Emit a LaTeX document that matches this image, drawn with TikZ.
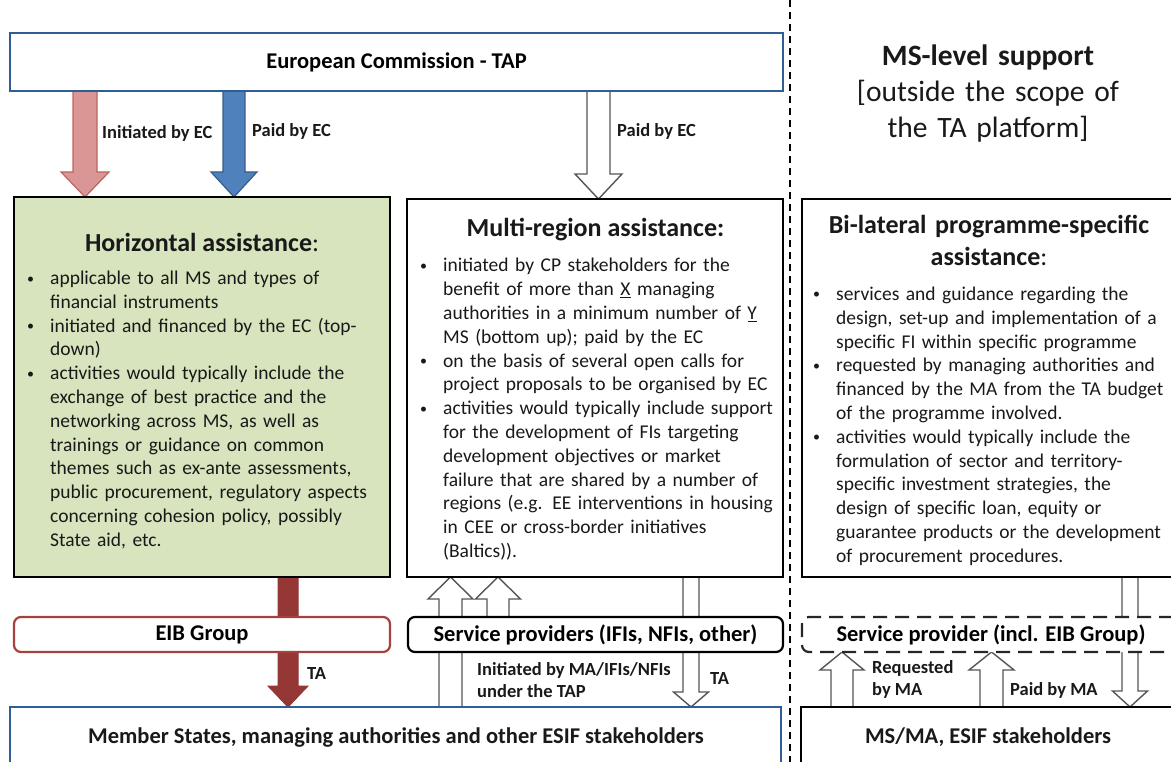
\documentclass[tikz,border=0pt]{standalone}
\usepackage{fontspec}
\setmainfont{Carlito}
\usetikzlibrary{calc}
\pgfdeclarelayer{bg}
\pgfsetlayers{bg,main}
\definecolor{ecblue}{RGB}{47,94,148}
\definecolor{hgreen}{RGB}{215,228,189}
\definecolor{pinkf}{RGB}{217,150,148}
\definecolor{pinkd}{RGB}{190,100,98}
\definecolor{bluef}{RGB}{79,129,189}
\definecolor{blued}{RGB}{56,93,138}
\definecolor{dred}{RGB}{149,55,53}
\definecolor{eibred}{RGB}{165,65,62}
\definecolor{txt}{RGB}{25,25,25}
\definecolor{agray}{RGB}{85,85,85}
\newcommand\fbody{\fontsize{19.5}{23.8}\selectfont}
\newcommand\ftitle{\fontsize{26}{31.7}\selectfont\bfseries}
\newcommand\flabel{\fontsize{22.5}{27}\selectfont\bfseries}
\newcommand\fsmall{\fontsize{18.5}{22}\selectfont\bfseries}
\newcommand\fbig{\fontsize{29.5}{36}\selectfont}
\newcommand\bul{\leavevmode\llap{\raisebox{1.5pt}{\fontsize{14}{14}\selectfont\textbullet}\hspace{16pt}}}
% block arrow pointing down: style, start, tip, half shaft, half head, head length
\newcommand\bdown[6]{\draw[#1] let \p1=(#2), \p2=(#3) in
  (\x1-#4pt,\y1) -- (\x1-#4pt,\y2+#6pt) -- (\x1-#5pt,\y2+#6pt) -- (\x1,\y2)
  -- (\x1+#5pt,\y2+#6pt) -- (\x1+#4pt,\y2+#6pt) -- (\x1+#4pt,\y1) -- cycle;}
% block arrow pointing up
\newcommand\bup[6]{\draw[#1] let \p1=(#2), \p2=(#3) in
  (\x1-#4pt,\y1) -- (\x1-#4pt,\y2-#6pt) -- (\x1-#5pt,\y2-#6pt) -- (\x1,\y2)
  -- (\x1+#5pt,\y2-#6pt) -- (\x1+#4pt,\y2-#6pt) -- (\x1+#4pt,\y1) -- cycle;}
\begin{document}
\begin{tikzpicture}[x=1pt,y=-1pt,
  box/.style={draw, inner sep=0pt, outer sep=0pt, line width=2.6pt, fill=white},
  ecbox/.style={box, draw=ecblue, line width=2.4pt},
  rbox/.style={box, rounded corners=7pt, line width=2.2pt},
  body/.style={anchor=base west, align=left, inner sep=0pt, font=\fbody, text=txt, text width=360pt},
  ttl/.style={anchor=base, inner sep=0pt, font=\ftitle, text=txt},
  lab/.style={anchor=west, inner sep=0pt, font=\fsmall, text=txt},
  pinkarrow/.style={fill=pinkf, draw=pinkd, line width=1.2pt},
  bluearrow/.style={fill=bluef, draw=blued, line width=1.2pt},
  redarrow/.style={fill=dred, draw=dred, line width=1pt},
  whitearrow/.style={fill=white, draw=agray, line width=1.4pt},
  sepline/.style={draw=black, line width=1.8pt, dash pattern=on 7pt off 5pt},
]
\useasboundingbox (0,0) rectangle (1171,762);
\clip (0,0) rectangle (1171,762);

% column coordinates for arrows
\coordinate (xa) at (85,0);
\coordinate (xb) at (234,0);
\coordinate (xc) at (598.5,0);
\coordinate (xd) at (288,0);
\coordinate (xe) at (450.5,0);
\coordinate (xf) at (498,0);
\coordinate (xg) at (691,0);
\coordinate (xh) at (1130,0);
\coordinate (xi) at (842,0);
\coordinate (xj) at (991.5,0);

% separator
\coordinate (septop) at (790,0);
\coordinate (sepbot) at (790,762);
\draw[sepline] (septop) -- (sepbot);

% top boxes
\node[ecbox, minimum width=773, minimum height=58] (ec) at (396.5,62) {\flabel European Commission - TAP};
\node[inner sep=0pt, text width=320pt, align=center, anchor=base, font=\fbig, text=txt] (mslevel) at (988,65.4)
  {\textbf{MS-level support}\\{[}outside the scope of\\the TA platform{]}};

% main boxes
\node[box, fill=hgreen, minimum width=376, minimum height=380] (hor) at (202,387) {};
\node[box, minimum width=376, minimum height=378] (multi) at (595,388) {};
\node[box, minimum width=376, minimum height=378] (bi) at (990,388) {};

% bottom boxes
\node[rbox, draw=eibred, minimum width=376, minimum height=35] (eib) at (202,634.5) {\flabel EIB Group};
\node[rbox, minimum width=375, minimum height=35] (sp) at (595.5,634.5) {\flabel Service providers (IFIs, NFIs, other)};
\node[rbox, dash pattern=on 14pt off 8pt, draw=black!85, minimum width=378, minimum height=35] (rsp) at (991,634.5) {\flabel Service provider (incl. EIB Group)};
\node[ecbox, minimum width=771, minimum height=56] (ms) at (395.5,735) {};
\node[box, minimum width=378, minimum height=56] (msma) at (990,735) {};
\node[font=\flabel, text=txt, inner sep=0pt] (mstext) at (396,737) {Member States, managing authorities and other ESIF stakeholders};
\node[font=\flabel, text=txt, inner sep=0pt] (msmatext) at (988,737) {MS/MA, ESIF stakeholders};

% titles
\node[ttl] (hortitle) at (202,251.5) {Horizontal assistance\textmd{:}};
\node[ttl] (multititle) at (595.5,237) {Multi-region assistance:};
\node[ttl, text width=370pt, align=center] (bititle) at (989,233.5) {Bi-lateral programme-specific\\assistance\textmd{:}};

% bullet texts
\node[body] (hortext) at (50,284.5) {%
\bul applicable to all MS and types of\\
financial instruments\\
\bul initiated and financed by the EC (top-\\
down)\\
\bul activities would typically include the\\
exchange of best practice and the\\
networking across MS, as well as\\
trainings or guidance on common\\
themes such as ex-ante assessments,\\
public procurement, regulatory aspects\\
concerning cohesion policy, possibly\\
State aid, etc.};

\node[body] (multitext) at (443,272) {%
\bul initiated by CP stakeholders for the\\
benefit of more than \underline{X} managing\\
authorities in a minimum number of \underline{Y}\\
MS (bottom up); paid by the EC\\
\bul on the basis of several open calls for\\
project proposals to be organised by EC\\
\bul activities would typically include support\\
for the development of FIs targeting\\
development objectives or market\\
failure that are shared by a number of\\
regions (e.g. EE interventions in housing\\
in CEE or cross-border initiatives\\
(Baltics)).};

\node[body] (bitext) at (836,300.5) {%
\bul services and guidance regarding the\\
design, set-up and implementation of a\\
specific FI within specific programme\\
\bul requested by managing authorities and\\
financed by the MA from the TA budget\\
of the programme involved.\\
\bul activities would typically include the\\
formulation of sector and territory-\\
specific investment strategies, the\\
design of specific loan, equity or\\
guarantee products or the development\\
of procurement procedures.};

% arrow labels
\node[lab] (l1) at (102,133) {Initiated by EC};
\node[lab] (l2) at (252,131.5) {Paid by EC};
\node[lab] (l3) at (617,131.5) {Paid by EC};
\node[lab] (l4) at (307,673) {TA};
\node[lab, align=left] (l5) at (477,680) {Initiated by MA/IFIs/NFIs\\under the TAP};
\node[lab] (l6) at (710,678) {TA};
\node[lab, align=left] (l7) at (872,679) {Requested\\by MA};
\node[lab] (l8) at (1010,690) {Paid by MA};

% block arrows (behind boxes)
\begin{pgfonlayer}{bg}
\bdown{pinkarrow}{ec.south -| xa}{hor.north -| xa}{12}{24}{25}
\bdown{bluearrow}{ec.south -| xb}{hor.north -| xb}{11}{23}{25}
\bdown{whitearrow}{ec.south -| xc}{multi.north -| xc}{11.5}{23.5}{25}
\bdown{redarrow}{hor.south -| xd}{ms.north -| xd}{10}{20}{21}
\bup{whitearrow}{ms.north -| xe}{multi.south -| xe}{11.5}{22.5}{22}
\bup{whitearrow}{sp.north -| xf}{multi.south -| xf}{11}{22.5}{22}
\bdown{whitearrow}{multi.south -| xg}{ms.north -| xg}{8}{17.5}{15}
\bdown{whitearrow}{bi.south -| xh}{msma.north -| xh}{8}{17.5}{16}
\bup{whitearrow}{msma.north -| xi}{rsp.south -| xi}{11}{22}{18}
\bup{whitearrow}{msma.north -| xj}{rsp.south -| xj}{11.5}{22.5}{18}
\end{pgfonlayer}
\end{tikzpicture}
\end{document}
